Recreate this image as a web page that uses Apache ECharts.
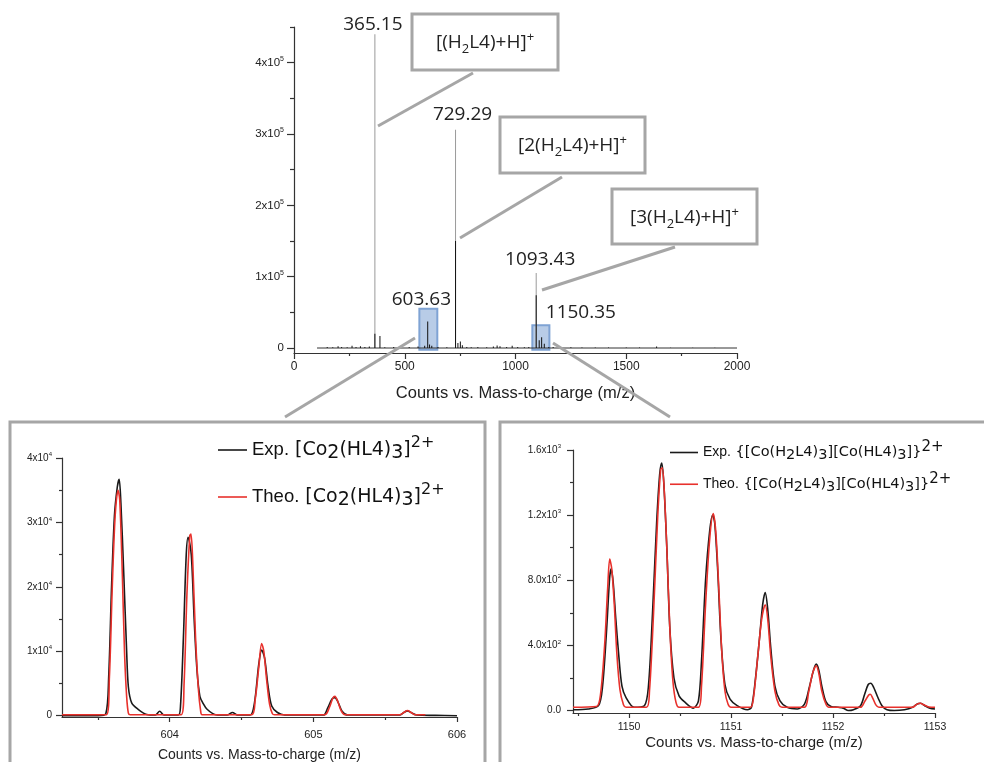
<!DOCTYPE html>
<html><head><meta charset="utf-8">
<script src="https://cdn.jsdelivr.net/npm/echarts@6/dist/echarts.min.js"></script>
<style>html,body{margin:0;padding:0;background:#fff}#c{width:984px;height:762px}</style>
</head><body><div id="c"></div>
<script>
// ---------- survey spectrum (top) ----------
const surveyMz = [150,175,199,215,240,262,280,300,320,340,365.15,388,410,450,480,520,560,590,603.63,612,622,650,690,729.29,740,751,760,780,800,830,870,900,917,930,960,985,1010,1040,1060,1093.43,1107,1118,1130,1150.35,1170,1200,1250,1300,1360,1420,1500,1560,1637,1700,1800,1900];
const surveyCounts = [1500,1000,2500,1500,1000,3000,1500,2500,1500,2000,20000,17000,1000,1500,1000,1500,2000,3000,37000,5000,3000,1500,1000,150000,7000,9000,4000,1500,1000,1500,1000,2000,3500,2500,1500,3000,1500,1000,1500,74000,11000,15000,6000,1500,1500,1000,1000,800,800,700,600,600,2000,500,500,400];
const baselineMz = [104, 2000];
const baselineCounts = [0, 0];
const annotatedMz = [365.15, 729.29, 1093.43];
const annotatedTop = [440000, 306000, 105000];
const zoomFrom = [566, 1076];
const zoomTo = [647, 1153];
const zoomTop = [55000, 32000];
const zoomLabels = ['603.63', '1150.35'];
const surveyXTicks = [0, 500, 1000, 1500, 2000];
const surveyXMinor = [250, 750, 1250, 1750];
const surveyYTicks = [0, 100000, 200000, 300000, 400000];
const surveyYMinor = [50000, 150000, 250000, 350000, 450000];

// ---------- [Co2(HL4)3]2+ (bottom left) ----------
const expAMz = [603.25,603.50,603.555,603.575,603.595,603.615,603.635,603.648,603.66,603.68,603.70,603.712,603.735,603.78,603.84,603.90,603.93,603.96,604.06,604.075,604.095,604.115,604.128,604.15,604.17,604.19,604.21,604.23,604.26,604.32,604.40,604.437,604.47,604.56,604.59,604.62,604.64,604.66,604.685,604.71,604.75,604.80,605.07,605.10,605.13,605.15,605.17,605.20,605.24,605.60,605.63,605.655,605.68,605.72,605.85,606.0];
const expACounts = [0,0,300,6000,20000,31000,35500,36700,33000,22000,10000,4500,2000,1000,200,100,700,100,100,1500,12000,25000,27700,25000,15000,7000,3000,2000,1000,150,100,500,100,100,2000,8000,10200,9000,4500,1500,500,100,100,1200,2600,2800,2200,700,100,100,500,750,500,100,50,0];
const theoAMz = [603.25,603.56,603.58,603.60,603.62,603.64,603.652,603.67,603.685,603.70,603.712,603.725,604.08,604.10,604.12,604.14,604.148,604.16,604.18,604.20,604.215,604.225,604.57,604.595,604.62,604.64,604.655,604.675,604.695,604.715,604.73,605.08,605.11,605.135,605.15,605.17,605.195,605.22,605.60,605.63,605.655,605.68,605.71,605.78];
const theoACounts = [150,150,6000,20000,31000,35000,33500,22000,10000,3000,400,150,150,5000,19000,28000,28200,24000,12000,4000,800,150,150,2500,7500,11200,10000,5500,1800,300,150,150,1200,2700,3000,2200,700,150,150,500,800,500,150,150];
const aXTicks = [604, 605, 606];
const aXMinor = [603.5, 604.5, 605.5];
const aYTicks = [0, 10000, 20000, 30000, 40000];
const aYMinor = [5000, 15000, 25000, 35000];

// ---------- {[Co(H2L4)3][Co(HL4)3]}2+ (bottom right) ----------
const expBMz = [1149.45,1149.60,1149.70,1149.74,1149.78,1149.81,1149.825,1149.845,1149.87,1149.90,1149.93,1149.97,1150.05,1150.15,1150.19,1150.23,1150.27,1150.30,1150.32,1150.34,1150.37,1150.40,1150.44,1150.49,1150.55,1150.63,1150.68,1150.71,1150.75,1150.79,1150.82,1150.84,1150.87,1150.90,1150.94,1150.99,1151.06,1151.16,1151.20,1151.24,1151.28,1151.31,1151.335,1151.36,1151.39,1151.43,1151.48,1151.55,1151.65,1151.72,1151.77,1151.81,1151.835,1151.86,1151.89,1151.93,1151.98,1152.05,1152.10,1152.15,1152.20,1152.27,1152.31,1152.345,1152.37,1152.40,1152.44,1152.48,1152.53,1152.60,1152.70,1152.78,1152.83,1152.86,1152.90,1152.95,1153.0];
const expBCounts = [5,10,30,150,500,820,870,780,560,330,150,80,20,30,150,600,1150,1450,1520,1400,1000,500,200,90,50,15,60,300,800,1100,1200,1150,850,450,160,70,30,5,20,200,450,650,725,620,380,150,60,20,10,40,150,250,285,250,150,55,25,20,15,0,5,30,100,160,168,140,80,30,5,0,5,20,42,45,30,15,10];
const theoBMz = [1149.45,1149.68,1149.72,1149.76,1149.79,1149.81,1149.83,1149.855,1149.88,1149.91,1149.945,1149.97,1150.17,1150.20,1150.24,1150.28,1150.31,1150.325,1150.345,1150.37,1150.40,1150.43,1150.46,1150.49,1150.68,1150.71,1150.75,1150.79,1150.825,1150.85,1150.88,1150.91,1150.94,1150.97,1151.0,1151.19,1151.22,1151.26,1151.30,1151.335,1151.36,1151.39,1151.43,1151.47,1151.50,1151.72,1151.76,1151.80,1151.835,1151.86,1151.89,1151.93,1151.96,1152.27,1152.31,1152.35,1152.365,1152.39,1152.42,1152.45,1152.78,1152.82,1152.855,1152.89,1152.94,1153.0];
const theoBCounts = [20,25,100,400,750,930,870,650,350,130,35,20,20,120,600,1180,1480,1490,1350,1000,500,180,50,20,20,150,650,1050,1210,1100,750,350,120,40,20,20,80,320,560,650,560,330,120,35,20,20,110,230,275,230,120,40,20,20,55,95,100,75,35,20,20,38,45,35,22,20];
const bXTicks = [1150, 1151, 1152, 1153];
const bXMinor = [1149.5, 1150.5, 1151.5, 1152.5];
const bYTicks = [0, 400, 800, 1200, 1600];
const bYMinor = [200, 600, 1000, 1400];

const axisName = 'Counts vs. Mass-to-charge (m/z)';
const nameExpA = 'Exp. [Co2(HL4)3]2+';
const nameTheoA = 'Theo. [Co2(HL4)3]2+';
const nameExpB = 'Exp. {[Co(H2L4)3][Co(HL4)3]}2+';
const nameTheoB = 'Theo. {[Co(H2L4)3][Co(HL4)3]}2+';

// ---------- helpers ----------
const pairs = (xs, ys) => xs.map((x, i) => [x, ys[i]]);
const AX = '#333';
const SANS = 'Liberation Sans, Arial, sans-serif';

function sci(v, exp, digits) {
  if (v === 0) return digits ? (0).toFixed(digits) : '0';
  let e = exp != null ? exp : Math.floor(Math.log10(v));
  const m = v / Math.pow(10, e);
  return '{b|' + (digits ? m.toFixed(digits) : m) + 'x10}{s|' + e + '}';
}
function sciRich(fs, sfs) {
  return {
    b: {fontSize: fs, fontFamily: SANS, color: '#222', lineHeight: fs + 3},
    s: {fontSize: sfs, fontFamily: SANS, color: '#222', height: sfs, verticalAlign: 'top'}
  };
}
function xPair(grid, min, max, majors, minors, o) {
  return [{
    type: 'value', gridIndex: grid, min: min, max: max, position: 'bottom',
    axisLine: {show: true, onZero: false, lineStyle: {color: AX, width: 1.2}},
    axisTick: {show: true, customValues: majors, length: o.tick, lineStyle: {color: AX, width: 1.2}},
    axisLabel: {customValues: majors, fontSize: o.fs, fontFamily: SANS, color: '#222', margin: o.margin,
      formatter: v => String(v)},
    splitLine: {show: false},
    name: axisName, nameLocation: 'middle', nameGap: o.nameGap,
    nameTextStyle: {fontSize: o.nameFs, fontFamily: SANS, color: '#222', verticalAlign: 'top'}
  }, {
    type: 'value', gridIndex: grid, min: min, max: max, position: 'bottom',
    axisLine: {show: false, onZero: false},
    axisTick: {show: true, customValues: minors, length: o.minorTick, lineStyle: {color: AX, width: 1.2}},
    axisLabel: {show: false}, splitLine: {show: false}
  }];
}
function yPair(grid, min, max, majors, minors, o) {
  return [{
    type: 'value', gridIndex: grid, min: min, max: max, position: 'left',
    axisLine: {show: true, onZero: false, lineStyle: {color: AX, width: 1.2}},
    axisTick: {show: true, customValues: majors, length: o.tick, lineStyle: {color: AX, width: 1.2}},
    axisLabel: {customValues: majors, margin: o.margin, formatter: o.fmt, rich: sciRich(o.fs, o.sfs),
      fontSize: o.fs, fontFamily: SANS, color: '#222'},
    splitLine: {show: false}
  }, {
    type: 'value', gridIndex: grid, min: min, max: max, position: 'left',
    axisLine: {show: false, onZero: false},
    axisTick: {show: true, customValues: minors, length: o.minorTick, lineStyle: {color: AX, width: 1.2}},
    axisLabel: {show: false}, splitLine: {show: false}
  }];
}

const topX = xPair(0, 0, 2000, surveyXTicks, surveyXMinor, {tick: 6, minorTick: 3, fs: 12, margin: 8, nameGap: 32, nameFs: 16.5});
const topY = yPair(0, -7000, 450000, surveyYTicks, surveyYMinor, {tick: 7, minorTick: 4, fs: 11.5, sfs: 7, margin: 10, fmt: v => sci(v, 5)});
const aX = xPair(1, 603.25, 606, aXTicks, aXMinor, {tick: 5, minorTick: 3, fs: 11, margin: 12, nameGap: 31, nameFs: 14});
const aY = yPair(1, -200, 40000, aYTicks, aYMinor, {tick: 6, minorTick: 3, fs: 10, sfs: 6, margin: 10, fmt: v => sci(v, 4)});
const bX = xPair(2, 1149.45, 1153, bXTicks, bXMinor, {tick: 5, minorTick: 3, fs: 10.5, margin: 9, nameGap: 22, nameFs: 15});
const bY = yPair(2, -15, 1600, bYTicks, bYMinor, {tick: 6, minorTick: 3, fs: 10, sfs: 6, margin: 12, fmt: v => sci(v, null, 1)});

// legend rich formatting
const legendTexts = {};
legendTexts[nameExpA] = '{e|Exp.} {f|[Co}{sb|2}{f|(HL4)}{sb|3}{f|]}{sp|2+}';
legendTexts[nameTheoA] = '{e|Theo.} {f|[Co}{sb|2}{f|(HL4)}{sb|3}{f|]}{sp|2+}';
legendTexts[nameExpB] = '{e|Exp.} {f|{[Co(H}{sb|2}{f|L4)}{sb|3}{f|][Co(HL4)}{sb|3}{f|]}}{sp|2+}';
legendTexts[nameTheoB] = '{e|Theo.} {f|{[Co(H}{sb|2}{f|L4)}{sb|3}{f|][Co(HL4)}{sb|3}{f|]}}{sp|2+}';
function legendRich(eFs, fFs, sbFs, spFs, lh, spH) {
  return {
    e: {fontFamily: SANS, fontSize: eFs, color: '#111', lineHeight: lh},
    f: {fontFamily: 'DejaVu Sans', fontSize: fFs, color: '#111', lineHeight: lh},
    sb: {fontFamily: 'DejaVu Sans', fontSize: sbFs, color: '#111', height: sbFs, verticalAlign: 'bottom'},
    sp: {fontFamily: 'DejaVu Sans', fontSize: spFs, color: '#111', height: spH, verticalAlign: 'top'}
  };
}

const numLabel = {fontFamily: 'Open Sans', fontSize: 19, color: '#222'};
const annOffsets = [[-2, 2], [7, -4], [4, -2]];
const zoomOffsets = [[-7, 3], [40, 0]];

const option = {
  backgroundColor: '#fff',
  animation: false,
  grid: [
    {left: 294, top: 27, width: 443, height: 326, outerBoundsMode: 'none', containLabel: false},
    {left: 62, top: 458, width: 395, height: 259, outerBoundsMode: 'none', containLabel: false},
    {left: 573, top: 450, width: 362, height: 263, outerBoundsMode: 'none', containLabel: false}
  ],
  xAxis: [...topX, ...aX, ...bX],
  yAxis: [...topY, ...aY, ...bY],
  legend: [{
    data: [nameExpA, nameTheoA], left: 218, top: 435, orient: 'vertical', padding: 0,
    icon: 'rect', itemWidth: 29, itemHeight: 1.6, itemGap: 19, selectedMode: false,
    formatter: n => legendTexts[n],
    textStyle: {fontFamily: 'DejaVu Sans', fontSize: 19, color: '#111', lineHeight: 26,
      rich: legendRich(18.5, 19, 19, 16, 26, 12)}
  }, {
    data: [nameExpB, nameTheoB], left: 670, top: 440, orient: 'vertical', padding: 0,
    icon: 'rect', itemWidth: 28, itemHeight: 1.6, itemGap: 9, selectedMode: false,
    formatter: n => legendTexts[n],
    textStyle: {fontFamily: 'DejaVu Sans', fontSize: 14.5, color: '#111', lineHeight: 20,
      rich: legendRich(14, 14.5, 14.5, 15, 20, 10)}
  }],
  series: [
    {
      name: 'Baseline', type: 'line', xAxisIndex: 0, yAxisIndex: 0, symbol: 'none',
      data: pairs(baselineMz, baselineCounts), lineStyle: {color: '#333', width: 1}, z: 3
    },
    {
      name: 'Annotated peaks', type: 'bar', xAxisIndex: 0, yAxisIndex: 0, barWidth: 1,
      itemStyle: {color: '#9a9a9a'}, z: 2,
      data: annotatedMz.map((m, i) => ({
        value: [m, annotatedTop[i]],
        label: {show: true, position: 'top', distance: 2, offset: annOffsets[i],
          formatter: m.toFixed(2), ...numLabel}
      }))
    },
    {
      name: 'Survey', type: 'bar', xAxisIndex: 0, yAxisIndex: 0, barWidth: 1, barGap: '-100%',
      itemStyle: {color: '#111'}, z: 4,
      data: pairs(surveyMz, surveyCounts),
      markArea: {
        silent: true,
        itemStyle: {color: 'rgba(125,162,212,0.55)', borderColor: '#7fa3d4', borderWidth: 2},
        data: zoomFrom.map((f, i) => [
          {xAxis: f, yAxis: -2500, name: zoomLabels[i],
            label: {show: true, position: 'top', distance: 2, offset: zoomOffsets[i], ...numLabel}},
          {xAxis: zoomTo[i], yAxis: zoomTop[i]}
        ])
      }
    },
    {
      name: nameExpA, type: 'line', xAxisIndex: 2, yAxisIndex: 2, symbol: 'none', smooth: 0.3,
      data: pairs(expAMz, expACounts), lineStyle: {color: '#1a1a1a', width: 1.6}, itemStyle: {color: '#1a1a1a'}
    },
    {
      name: nameTheoA, type: 'line', xAxisIndex: 2, yAxisIndex: 2, symbol: 'none', smooth: 0.3,
      data: pairs(theoAMz, theoACounts), lineStyle: {color: '#e8312c', width: 1.6}, itemStyle: {color: '#e8312c'}
    },
    {
      name: nameExpB, type: 'line', xAxisIndex: 4, yAxisIndex: 4, symbol: 'none', smooth: 0.3,
      data: pairs(expBMz, expBCounts), lineStyle: {color: '#1a1a1a', width: 1.6}, itemStyle: {color: '#1a1a1a'}
    },
    {
      name: nameTheoB, type: 'line', xAxisIndex: 4, yAxisIndex: 4, symbol: 'none', smooth: 0.3,
      data: pairs(theoBMz, theoBCounts), lineStyle: {color: '#e8312c', width: 1.6}, itemStyle: {color: '#e8312c'}
    }
  ],
  graphic: (function () {
    const G = '#a6a6a6';
    const annRich = {
      b: {fontFamily: 'Open Sans', fontSize: 19, fill: '#222', lineHeight: 26},
      s: {fontFamily: 'Open Sans', fontSize: 13, fill: '#222', height: 13, verticalAlign: 'bottom'},
      p: {fontFamily: 'Open Sans', fontSize: 13, fill: '#222', height: 15, verticalAlign: 'top'}
    };
    const boxes = [
      {x: 412, y: 14, w: 146, h: 56, t: '{b|[(H}{s|2}{b|L4)+H]}{p|+}'},
      {x: 500, y: 117, w: 145, h: 56, t: '{b|[2(H}{s|2}{b|L4)+H]}{p|+}'},
      {x: 612, y: 189, w: 145, h: 55, t: '{b|[3(H}{s|2}{b|L4)+H]}{p|+}'}
    ];
    const lines = [
      [378, 126, 473, 73], [460, 238, 562, 177], [542, 290, 675, 247],
      [415, 338, 285, 417], [553, 343, 670, 417]
    ];
    const els = [];
    els.push({type: 'rect', z: 1, shape: {x: 10, y: 422, width: 475, height: 400},
      style: {fill: 'rgba(0,0,0,0)', stroke: G, lineWidth: 3}});
    els.push({type: 'rect', z: 1, shape: {x: 500, y: 422, width: 500, height: 400},
      style: {fill: 'rgba(0,0,0,0)', stroke: G, lineWidth: 3}});
    lines.forEach(l => els.push({type: 'line', z: 50, shape: {x1: l[0], y1: l[1], x2: l[2], y2: l[3]},
      style: {stroke: G, lineWidth: 3}}));
    boxes.forEach(b => {
      els.push({type: 'rect', z: 60, shape: {x: b.x, y: b.y, width: b.w, height: b.h},
        style: {fill: '#fff', stroke: G, lineWidth: 3}});
      els.push({type: 'text', z: 61, style: {text: b.t, rich: annRich, x: b.x + b.w / 2, y: b.y + b.h / 2 + 1,
        align: 'center', verticalAlign: 'middle', fill: '#222', fontFamily: 'Open Sans', fontSize: 19}});
    });
    return els;
  })()
};

const chart = echarts.init(document.getElementById('c'), null, {renderer: 'canvas'});
chart.setOption(option);
</script>
</body></html>
